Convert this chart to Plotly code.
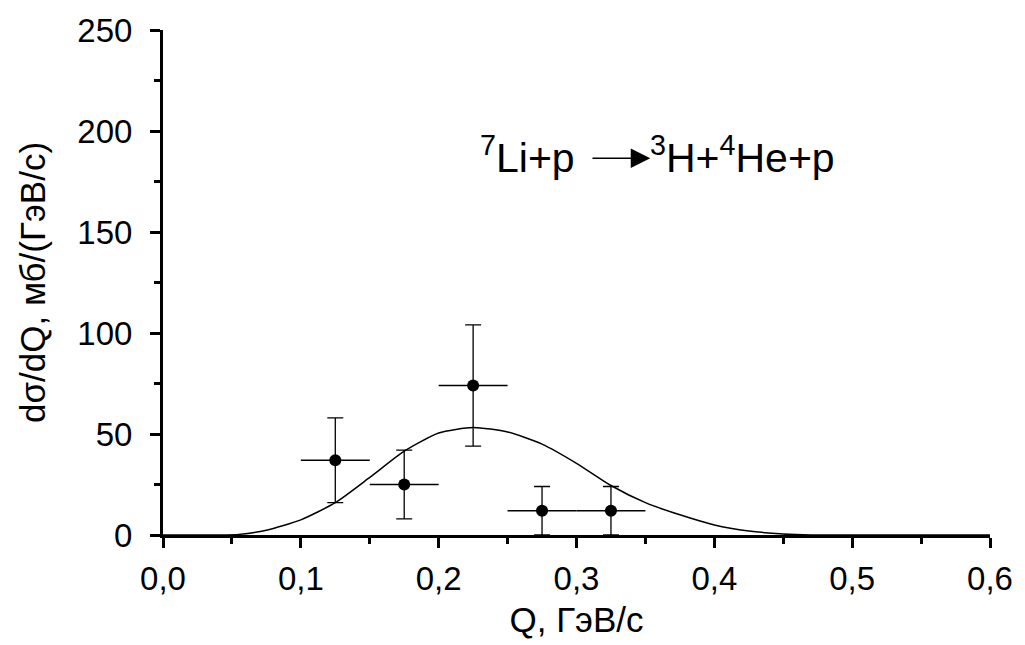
import plotly.graph_objects as go

# Experimental points
q_points = [0.125, 0.175, 0.225, 0.275, 0.325]
dsigma = [37, 25, 74, 12, 12]
dsigma_err = [21, 17, 30, 12, 12]
q_err = [0.025, 0.025, 0.025, 0.025, 0.025]

# Fitted curve
q_curve = [0.0, 0.04, 0.055, 0.075, 0.1, 0.125, 0.15, 0.175, 0.2, 0.225, 0.25,
           0.275, 0.3, 0.325, 0.35, 0.375, 0.4, 0.425, 0.45, 0.47, 0.5, 0.6]
dsigma_curve = [0, 0, 0.3, 2.4, 7.5, 16, 28.5, 41.5, 50.5, 53.2, 51,
                45, 35.5, 24.5, 16, 10, 5, 2, 0.5, 0, 0, 0]

x_tickvals = [0.0, 0.1, 0.2, 0.3, 0.4, 0.5, 0.6]
x_ticktext = ["0,0", "0,1", "0,2", "0,3", "0,4", "0,5", "0,6"]
y_tickvals = [0, 50, 100, 150, 200, 250]

FONT = "Liberation Sans, Arial, sans-serif"

fig = go.Figure()
fig.add_trace(go.Scatter(
    x=q_curve, y=dsigma_curve, mode="lines",
    line=dict(color="black", width=1.5, shape="spline", smoothing=0.6),
    showlegend=False, hoverinfo="skip"))
fig.add_trace(go.Scatter(
    x=q_points, y=dsigma, mode="markers",
    marker=dict(color="black", size=12),
    error_y=dict(type="data", array=dsigma_err, visible=True,
                 color="black", thickness=1.3, width=8),
    error_x=dict(type="data", array=q_err, visible=True,
                 color="black", thickness=1.3, width=0),
    showlegend=False))

axis_common = dict(
    showline=True, linecolor="black", linewidth=3, mirror=False,
    showgrid=False, zeroline=False,
    ticks="outside", ticklen=10, tickwidth=2.5, tickcolor="black",
    tickfont=dict(family=FONT, size=33, color="black"),
)

fig.update_xaxes(
    range=[0, 0.6], tickvals=x_tickvals, ticktext=x_ticktext,
    minor=dict(dtick=0.05, tick0=0, ticks="outside", ticklen=6,
               tickwidth=2.5, tickcolor="black"),
    ticklabelstandoff=2,
    title=dict(text="Q, ГэВ/с", font=dict(family=FONT, size=35, color="black"),
               standoff=12),
    **axis_common)
fig.update_yaxes(
    range=[0, 250], tickvals=y_tickvals,
    minor=dict(dtick=25, tick0=0, ticks="outside", ticklen=6,
               tickwidth=2.5, tickcolor="black"),
    ticklabelstandoff=11,
    title=dict(text="dσ/dQ, мб/(ГэВ/с)", font=dict(family=FONT, size=35, color="black"),
               standoff=22),
    **axis_common)

fig.add_annotation(x=0.300, y=188, xref="x", yref="y",
                   text="<sup>7</sup>Li+p", showarrow=False,
                   xanchor="right", yanchor="middle",
                   font=dict(family=FONT, size=41, color="black"))
fig.add_annotation(x=0.352, y=188, xref="x", yref="y",
                   text="<sup>3</sup>H+<sup>4</sup>He+p", showarrow=False,
                   xanchor="left", yanchor="middle",
                   font=dict(family=FONT, size=41, color="black"))
fig.add_annotation(x=0.3535, y=186.5, ax=0.3105, ay=186.5,
                   xref="x", yref="y", axref="x", ayref="y",
                   text="", showarrow=True, arrowhead=2, arrowsize=3,
                   arrowwidth=1.3, arrowcolor="black", standoff=0, startstandoff=0)

fig.update_layout(
    width=1025, height=645,
    margin=dict(l=163, r=28, t=27, b=110),
    plot_bgcolor="white", paper_bgcolor="white",
    font=dict(family=FONT, color="black"),
)

fig.write_html("out.html")
